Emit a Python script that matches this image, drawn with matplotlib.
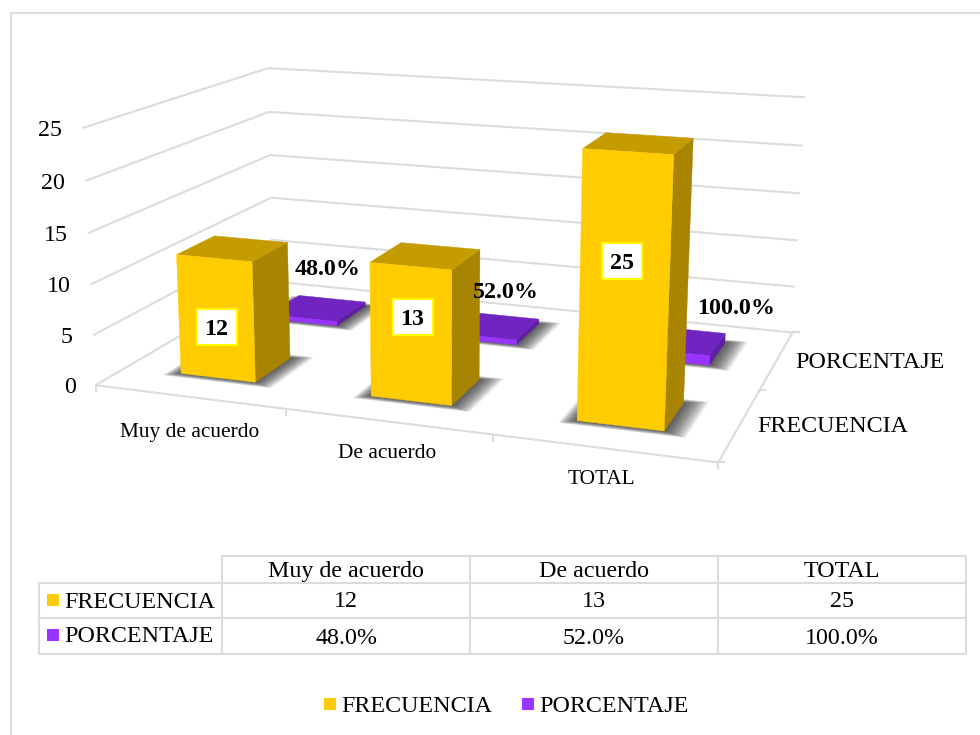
import numpy as np
import matplotlib
matplotlib.use("Agg")
import matplotlib.pyplot as plt
from matplotlib.patches import Polygon, Rectangle

plt.rcParams['font.family'] = ['Liberation Serif', 'DejaVu Serif']

categories = ["Muy de acuerdo", "De acuerdo", "TOTAL"]
series = ["FRECUENCIA", "PORCENTAJE"]
frecuencia = [12, 13, 25]
porcentaje = [0.48, 0.52, 1.0]
porcentaje_txt = ["48.0%", "52.0%", "100.0%"]
yticks = [0, 5, 10, 15, 20, 25]

GRID = "#dcdcdc"
YELLOW = ("#ffcc00", "#c49c00", "#a88400")  # front, top, side
PURPLE = ("#9933ff", "#7025c0", "#5e1fa3")
FS = 17.3

# camera: (category, depth, value) -> pixel, fitted on the axes corners
world = np.array([(0,0,0),(0,0,25),(0,2,0),(0,2,25),(3,2,0),(3,2,25),(3,0,0),(1,0,0),(2,0,0),(3,1,0),(0,2,10),(3,2,10)], float)
pix = np.array([(96,383),(82,128),(272,283),(268,68),(792,332),(805,98),(717,462),(287,410),(492,437),(762,389),(272,197),(797,240)], float)
A, b = [], []
for (X, Y, Z), (x, y) in zip(world, pix):
    A.append([X, Y, Z, 1, 0, 0, 0, 0, -x*X, -x*Y, -x*Z]); b.append(x)
    A.append([0, 0, 0, 0, X, Y, Z, 1, -y*X, -y*Y, -y*Z]); b.append(y)
P = np.append(np.linalg.lstsq(np.array(A), np.array(b), rcond=None)[0], 1).reshape(3, 4)


def proj(u, v, w):
    q = P @ np.array([u, v, w, 1.0])
    return q[0]/q[2], q[1]/q[2]


def line3(a, c, lw=1.5, color=GRID, z=1):
    p, q = proj(*a), proj(*c)
    ax.plot([p[0], q[0]], [p[1], q[1]], color=color, lw=lw, zorder=z, solid_capstyle="butt")


def face(pts, color, z):
    ax.add_patch(Polygon([proj(*p) for p in pts], closed=True, fc=color, ec=color, lw=0.3, zorder=z))


def bar3d(i, v0, v1, val, colors, z):
    u0, u1 = i + 0.3, i + 0.7
    # soft shadow on the floor, drawn as stacked translucent footprints
    for k in range(16, 0, -1):
        du = 0.0045 * k
        dv = 0.0035 * k
        ax.add_patch(Polygon([proj(u0 - du, v0 - dv, 0), proj(u1 + 1.5*du, v0 - dv, 0),
                              proj(u1 + 1.5*du, v1 + dv, 0), proj(u0 - du, v1 + dv, 0)],
                             closed=True, fc="#202020", ec="none", alpha=0.07, zorder=z))
    face([(u0, v0, 0), (u1, v0, 0), (u1, v0, val), (u0, v0, val)], colors[0], z + 0.3)
    face([(u0, v0, val), (u1, v0, val), (u1, v1, val), (u0, v1, val)], colors[1], z + 0.2)
    face([(u1, v0, 0), (u1, v1, 0), (u1, v1, val), (u1, v0, val)], colors[2], z + 0.1)


fig = plt.figure(figsize=(9.8, 7.35), dpi=100)
ax = fig.add_axes([0, 0, 1, 1])
ax.set_xlim(0, 980)
ax.set_ylim(735, 0)
ax.axis("off")

# chart frame, cut by the image on the right and bottom
ax.plot([10.5, 10.5, 980], [735, 12.5, 12.5], color=GRID, lw=1.5)

# walls and floor
for t in yticks:
    line3((0, 0, t), (0, 2, t))
    line3((0, 2, t), (3, 2, t))
    x, y = proj(0, 0, t)
    ax.text(x - 20, y + 2, str(t), ha="right", va="center", fontsize=FS)
line3((0, 0, 0), (3, 0, 0))
line3((3, 0, 0), (3, 2, 0))
for i in range(4):
    x, y = proj(i, 0, 0)
    ax.plot([x, x], [y, y + 6], color=GRID, lw=1.5)
for j in range(3):
    x, y = proj(3, j, 0)
    ax.plot([x, x + 6], [y, y], color=GRID, lw=1.5)

# bars, back row first
for i in range(3):
    bar3d(i, 1.3, 1.7, porcentaje[i], PURPLE, 3 + i)
for i in range(3):
    bar3d(i, 0.3, 0.7, frecuencia[i], YELLOW, 7 + i)

# data labels
freq_xy = [(216.5, 326.5), (412.5, 317), (622, 261)]
pct_xy = [(327.5, 267), (506, 290), (736, 306)]
for n in range(3):
    x, y = freq_xy[n]
    ax.add_patch(Rectangle((x - 20, y - 18), 40, 36, fc="white", ec="#ffff00", lw=1.5, zorder=12))
    ax.text(x, y + 2.5, str(frecuencia[n]), ha="center", va="center", fontsize=FS, fontweight="bold", zorder=13)
    x, y = pct_xy[n]
    ax.text(x, y + 2, porcentaje_txt[n], ha="center", va="center", fontsize=FS, fontweight="bold", zorder=13)

# axis labels
cat_xy = [(189.5, 432), (387, 453), (601.5, 479)]
for name, (x, y) in zip(categories, cat_xy):
    ax.text(x, y, name, ha="center", va="center", fontsize=15.4)
ax.text(795, 362, series[1], ha="left", va="center", fontsize=FS)
ax.text(757, 426, series[0], ha="left", va="center", fontsize=FS)

# data table
col_x = [39, 222, 470, 718, 966]
row_y = [556, 583, 618, 654]
ax.plot([222, 966], [row_y[0], row_y[0]], color=GRID, lw=1.5)
for y in row_y[1:]:
    ax.plot([39, 966], [y, y], color=GRID, lw=1.5)
ax.plot([39, 39], [row_y[1], row_y[3]], color=GRID, lw=1.5)
for x in col_x[1:]:
    ax.plot([x, x], [row_y[0], row_y[3]], color=GRID, lw=1.5)
for n in range(3):
    xc = (col_x[n+1] + col_x[n+2]) / 2
    ax.text(xc, 571.5, categories[n], ha="center", va="center", fontsize=FS)
    ax.text(xc, 601.5, str(frecuencia[n]), ha="center", va="center", fontsize=FS)
    ax.text(xc, 638.5, porcentaje_txt[n], ha="center", va="center", fontsize=FS)
for name, c, y in zip(series, (YELLOW[0], PURPLE[0]), (600, 635)):
    ax.add_patch(Rectangle((47, y - 6), 12, 12, fc=c, ec="none"))
    ax.text(64, y + 2, name, ha="left", va="center", fontsize=FS)

# legend
for name, c, x in zip(series, (YELLOW[0], PURPLE[0]), (324, 522)):
    ax.add_patch(Rectangle((x, 697.5), 12, 12.5, fc=c, ec="none"))
    ax.text(x + 17, 706, name, ha="left", va="center", fontsize=FS)

plt.savefig("out.png", dpi=100)
